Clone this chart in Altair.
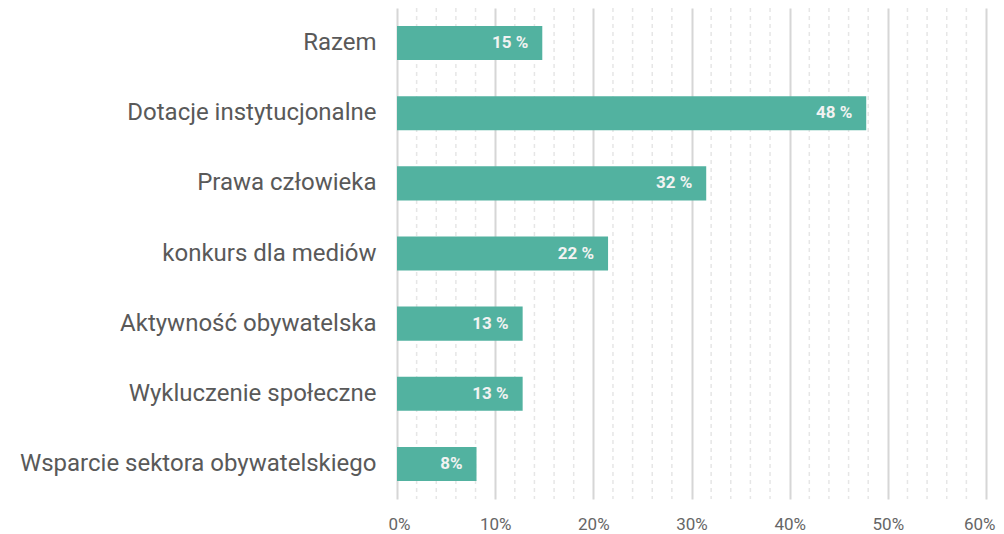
import altair as alt
import pandas as pd

categories = ["Razem", "Dotacje instytucjonalne", "Prawa człowieka", "konkurs dla mediów",
              "Aktywność obywatelska", "Wykluczenie społeczne", "Wsparcie sektora obywatelskiego"]
values = [14.8, 47.8, 31.5, 21.5, 12.8, 12.8, 8.1]
labels = ["15 %", "48 %", "32 %", "22 %", "13 %", "13 %", "8%"]
major_ticks = [0, 10, 20, 30, 40, 50, 60]
minor_ticks = [v for v in range(2, 60, 2) if v % 10 != 0]

df = pd.DataFrame({"cat": categories, "val": values, "lab": labels})
minor_df = pd.DataFrame({"v": minor_ticks})

FONT = "Roboto"
xscale = alt.Scale(domain=[0, 60], nice=False, zero=True)

minor = alt.Chart(minor_df).mark_rule(color="#e6e6e6", strokeWidth=1.5, strokeDash=[4, 4]).encode(
    x=alt.X("v:Q", scale=xscale)
)

bars = alt.Chart(df).mark_bar(color="#52B2A0").encode(
    x=alt.X("val:Q", scale=xscale,
            axis=alt.Axis(values=major_ticks, labelExpr="datum.value + '%'", title=None,
                          grid=True, gridColor="#d6d6d6", gridWidth=2, ticks=False, domain=False,
                          labelFlush=True, labelFlushOffset=9,
                          labelFont=FONT, labelFontSize=17, labelColor="#666666", labelPadding=17)),
    y=alt.Y("cat:N", sort=categories,
            scale=alt.Scale(paddingInner=0.514, paddingOuter=0.257),
            axis=alt.Axis(title=None, ticks=False, domain=False, labelFont=FONT, labelFontSize=24,
                          labelColor="#595959", labelPadding=21, labelLimit=400)),
)

text = alt.Chart(df).mark_text(align="right", baseline="middle", dx=-14, font=FONT,
                               fontWeight="bold", fontSize=17, color="#f2f2f2").encode(
    x=alt.X("val:Q", scale=xscale),
    y=alt.Y("cat:N", sort=categories),
    text="lab:N",
)

chart = alt.layer(minor, bars, text).properties(
    width=589, height=491,
    autosize=alt.AutoSizeParams(type="none"),
    padding={"left": 389, "top": 0, "right": 10, "bottom": 35},
).configure_view(stroke=None)

chart.save("out.html", embed_options={"renderer": "svg", "actions": False})
